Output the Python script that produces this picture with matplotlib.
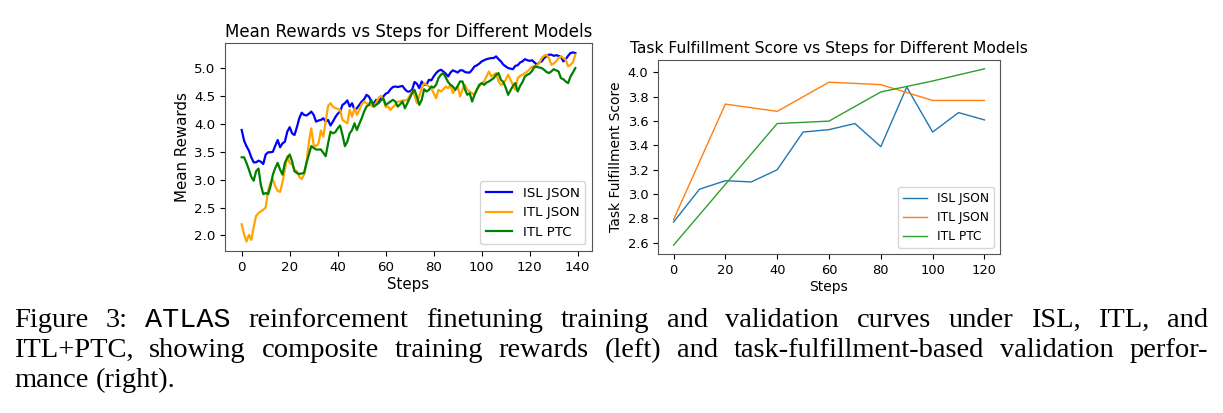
import numpy as np
import matplotlib
matplotlib.use('Agg')
import matplotlib.pyplot as plt

# --- left panel: mean rewards per step ---
steps = np.arange(140)
isl_json = [3.89, 3.70, 3.60, 3.52, 3.40, 3.31, 3.31, 3.34, 3.32, 3.28,
            3.45, 3.49, 3.49, 3.50, 3.61, 3.71, 3.58, 3.65, 3.68, 3.86,
            3.94, 3.83, 3.80, 3.94, 4.10, 4.20, 4.16, 4.15, 4.18, 4.22,
            4.16, 4.04, 4.06, 4.07, 4.10, 4.04, 4.07, 3.97, 4.04, 4.12,
            4.18, 4.22, 4.34, 4.37, 4.42, 4.31, 4.37, 4.25, 4.28, 4.34,
            4.40, 4.44, 4.52, 4.49, 4.40, 4.36, 4.43, 4.38, 4.46, 4.49,
            4.54, 4.56, 4.62, 4.66, 4.67, 4.66, 4.67, 4.68, 4.62, 4.58,
            4.58, 4.61, 4.75, 4.72, 4.64, 4.76, 4.70, 4.70, 4.79, 4.78,
            4.85, 4.91, 4.95, 4.97, 4.94, 4.90, 4.85, 4.92, 4.96, 4.94,
            4.92, 4.96, 4.96, 4.93, 4.92, 4.92, 4.97, 5.03, 5.05, 5.08,
            5.12, 5.14, 5.16, 5.17, 5.18, 5.18, 5.21, 5.16, 5.12, 5.06,
            5.03, 5.00, 4.99, 4.98, 5.04, 5.05, 5.10, 5.12, 5.16, 5.14,
            5.13, 5.14, 5.10, 5.06, 5.10, 5.12, 5.18, 5.21, 5.24, 5.24,
            5.22, 5.23, 5.22, 5.20, 5.12, 5.16, 5.22, 5.27, 5.28, 5.27]
itl_json = [2.20, 2.02, 1.89, 2.01, 1.92, 2.15, 2.35, 2.40, 2.43, 2.46,
            2.50, 2.80, 2.95, 3.00, 2.88, 2.80, 2.78, 2.95, 3.18, 3.42,
            3.30, 3.27, 3.18, 3.15, 3.05, 3.01, 3.09, 3.30, 3.68, 3.92,
            3.62, 3.60, 3.65, 3.88, 3.77, 4.05, 4.32, 4.37, 4.31, 4.28,
            4.27, 4.25, 4.07, 4.04, 4.01, 4.25, 4.13, 4.28, 4.16, 4.25,
            4.35, 4.40, 4.37, 4.34, 4.33, 4.31, 4.38, 4.46, 4.50, 4.45,
            4.30, 4.31, 4.25, 4.30, 4.34, 4.40, 4.40, 4.42, 4.42, 4.43,
            4.50, 4.58, 4.52, 4.37, 4.50, 4.64, 4.73, 4.70, 4.67, 4.64,
            4.55, 4.46, 4.61, 4.58, 4.62, 4.67, 4.64, 4.70, 4.55, 4.62,
            4.67, 4.49, 4.62, 4.70, 4.61, 4.58, 4.55, 4.52, 4.60, 4.67,
            4.73, 4.76, 4.85, 4.94, 4.85, 4.88, 4.91, 4.76, 4.70, 4.72,
            4.79, 4.88, 4.79, 4.70, 4.61, 4.82, 4.86, 4.88, 4.91, 4.94,
            4.98, 5.03, 5.00, 5.05, 5.09, 5.18, 5.22, 5.24, 5.18, 5.06,
            5.08, 5.12, 5.18, 5.21, 5.18, 5.15, 5.03, 5.06, 5.10, 5.24]
itl_ptc = [3.40, 3.40, 3.30, 3.18, 3.05, 2.98, 3.15, 3.20, 2.90, 2.74,
           2.76, 2.74, 2.88, 3.09, 3.21, 3.30, 3.18, 3.09, 3.30, 3.39,
           3.45, 3.33, 3.15, 3.12, 3.10, 3.11, 3.12, 3.30, 3.45, 3.60,
           3.57, 3.54, 3.54, 3.54, 3.48, 3.42, 3.65, 3.86, 3.83, 3.85,
           3.92, 3.97, 3.80, 3.60, 3.68, 3.83, 3.89, 4.01, 3.89, 4.00,
           4.10, 4.22, 4.31, 4.34, 4.43, 4.31, 4.34, 4.37, 4.42, 4.46,
           4.34, 4.37, 4.40, 4.43, 4.40, 4.31, 4.35, 4.40, 4.28, 4.37,
           4.46, 4.55, 4.61, 4.49, 4.34, 4.43, 4.62, 4.58, 4.61, 4.67,
           4.65, 4.70, 4.82, 4.88, 4.91, 4.83, 4.75, 4.70, 4.67, 4.61,
           4.68, 4.76, 4.76, 4.62, 4.52, 4.55, 4.40, 4.52, 4.62, 4.70,
           4.73, 4.70, 4.74, 4.76, 4.79, 4.82, 4.88, 4.91, 4.79, 4.75,
           4.65, 4.52, 4.60, 4.68, 4.73, 4.58, 4.68, 4.75, 4.85, 4.88,
           4.90, 4.95, 5.03, 5.02, 5.01, 5.00, 4.97, 4.93, 4.91, 4.94,
           4.98, 4.96, 4.94, 4.82, 4.80, 4.76, 4.73, 4.85, 4.92, 5.00]

# --- right panel: validation task fulfillment ---
val_steps_isl = [0, 10, 20, 30, 40, 50, 60, 70, 80, 90, 100, 110, 120]
val_isl_json = [2.77, 3.04, 3.11, 3.10, 3.20, 3.51, 3.53, 3.58, 3.39, 3.88, 3.51, 3.67, 3.61]
val_steps = [0, 20, 40, 60, 80, 100, 120]
val_itl_json = [2.79, 3.74, 3.68, 3.92, 3.90, 3.77, 3.77]
val_itl_ptc = [2.58, 3.08, 3.58, 3.60, 3.84, 3.93, 4.03]

W, H = 1223, 413
fig = plt.figure(figsize=(W / 100, H / 100), dpi=100)

def px_axes(l, t, r, b):
    return fig.add_axes([l / W, 1 - b / H, (r - l) / W, (b - t) / H])

ax1 = px_axes(225, 43, 592, 251)
ax1.plot(steps, isl_json, color='blue', lw=1.6, label='ISL JSON')
ax1.plot(steps, itl_json, color='orange', lw=1.6, label='ITL JSON')
ax1.plot(steps, itl_ptc, color='green', lw=1.6, label='ITL PTC')
ax1.set_xticks(range(0, 141, 20))
ax1.set_yticks([2.0, 2.5, 3.0, 3.5, 4.0, 4.5, 5.0])
ax1.tick_params(labelsize=9.6)
ax1.set_xlabel('Steps', fontsize=10.8, labelpad=2)
ax1.set_ylabel('Mean Rewards', fontsize=10.8, labelpad=3)
ax1.set_title('Mean Rewards vs Steps for Different Models', fontsize=12, pad=4)
ax1.legend(loc='lower right', fontsize=9.6)

ax2 = px_axes(658, 60, 1000, 254)
ax2.plot(val_steps_isl, val_isl_json, lw=1.0, label='ISL JSON')
ax2.plot(val_steps, val_itl_json, lw=1.0, label='ITL JSON')
ax2.plot(val_steps, val_itl_ptc, lw=1.0, label='ITL PTC')
ax2.set_xticks(range(0, 121, 20))
ax2.set_yticks([2.6, 2.8, 3.0, 3.2, 3.4, 3.6, 3.8, 4.0])
ax2.tick_params(labelsize=9.4)
ax2.set_xlabel('Steps', fontsize=10, labelpad=2)
ax2.set_ylabel('Task Fulfillment Score', fontsize=10, labelpad=3)
ax2.set_title('Task Fulfillment Score vs Steps for Different Models', fontsize=11.2, pad=5)
ax2.legend(loc='lower right', fontsize=8.8)

for ax in (ax1, ax2):
    for sp in ax.spines.values():
        sp.set_color('#555555')

# --- caption, justified like the paper ---
serif = ['Liberation Serif', 'DejaVu Serif']
mono = ['Liberation Mono', 'DejaVu Sans Mono']
cap_size = 20.5
renderer = fig.canvas.get_renderer()

def place_line(words, x0, x1, base, justify=True):
    texts = []
    for w, fam in words:
        t = fig.text(0, 1 - base / H, w, fontsize=cap_size, family=fam,
                     va='baseline', ha='left')
        texts.append(t)
    widths = [t.get_window_extent(renderer).width for t in texts]
    if justify and len(texts) > 1:
        gap = (x1 - x0 - sum(widths)) / (len(texts) - 1)
    else:
        gap = cap_size * 100 / 72 * 0.25
    x = x0
    for t, wd in zip(texts, widths):
        t.set_x(x / W)
        x += wd + gap

line1 = [('Figure', serif), ('3:', serif), ('ATLAS', mono)] + \
    [(w, serif) for w in 'reinforcement finetuning training and validation curves under ISL, ITL, and'.split()]
line2 = [(w, serif) for w in 'ITL+PTC, showing composite training rewards (left) and task-fulfillment-based validation perfor-'.split()]
line3 = [(w, serif) for w in 'mance (right).'.split()]
place_line(line1, 14, 1208, 327)
place_line(line2, 14, 1208, 357)
place_line(line3, 14, 1208, 387, justify=False)

fig.savefig('out.png', dpi=100)
